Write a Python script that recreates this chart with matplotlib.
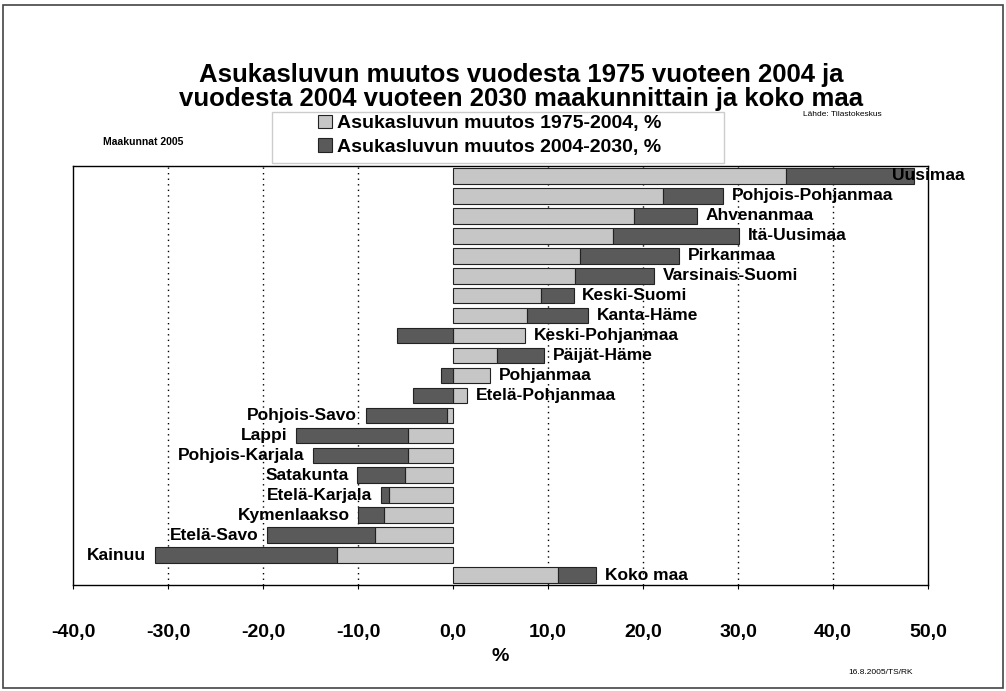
import numpy as np
import matplotlib.pyplot as plt
from matplotlib.patches import Rectangle

plt.rcParams['font.family'] = ['Liberation Sans', 'DejaVu Sans']

regions = ["Uusimaa", "Pohjois-Pohjanmaa", "Ahvenanmaa", "Itä-Uusimaa", "Pirkanmaa",
           "Varsinais-Suomi", "Keski-Suomi", "Kanta-Häme", "Keski-Pohjanmaa", "Päijät-Häme",
           "Pohjanmaa", "Etelä-Pohjanmaa", "Pohjois-Savo", "Lappi", "Pohjois-Karjala",
           "Satakunta", "Etelä-Karjala", "Kymenlaakso", "Etelä-Savo", "Kainuu", "Koko maa"]
change_1975_2004 = [35.0, 22.1, 19.1, 16.8, 13.4, 12.8, 9.3, 7.8, 7.6, 4.6,
                    3.9, 1.5, -0.6, -4.7, -4.7, -5.1, -6.7, -7.3, -8.2, -12.2, 11.0]
change_2004_2030 = [13.5, 6.3, 6.6, 13.3, 10.4, 8.4, 3.4, 6.4, -5.9, 5.0,
                    -1.3, -4.2, -8.6, -11.8, -10.0, -5.0, -0.9, -2.7, -11.4, -19.2, 4.1]

light = "#c6c6c6"
dark = "#5a5a5a"

a = np.array(change_1975_2004)
b = np.array(change_2004_2030)
# second series continues from the first when signs agree, else starts at 0
left_b = np.where(np.sign(a) == np.sign(b), a, 0.0)
y = np.arange(len(regions))

fig = plt.figure(figsize=(10.06, 6.91), dpi=100)
ax = fig.add_axes([0.0726, 0.1534, 0.8499, 0.6064])

ax.barh(y, a, height=0.78, color=light, edgecolor="#222222", linewidth=0.8,
        label="Asukasluvun muutos 1975-2004, %", zorder=3)
ax.barh(y, b, left=left_b, height=0.78, color=dark, edgecolor="#222222", linewidth=0.8,
        label="Asukasluvun muutos 2004-2030, %", zorder=3)

for i, name in enumerate(regions):
    hi = max(a[i], left_b[i] + b[i], 0)
    lo = min(a[i], left_b[i] + b[i], 0)
    if a[i] > 0:
        ax.text(min(hi + 0.9, 46.2), i, name, ha="left", va="center",
                fontsize=12.5, fontweight="bold", zorder=4)
    else:
        ax.text(lo - 0.9, i, name, ha="right", va="center",
                fontsize=12.5, fontweight="bold", zorder=4)

ax.set_xlim(-40, 50)
ax.set_ylim(len(regions) - 0.5, -0.5)
ax.set_yticks([])
ticks = np.arange(-40, 51, 10)
ax.set_xticks(ticks)
ax.set_xticklabels([f"{v:.1f}".replace(".", ",") for v in ticks],
                   fontsize=14, fontweight="bold")
ax.tick_params(axis="x", length=3, pad=25)
for gx in [-30, -20, -10, 10, 20, 30, 40]:
    ax.axvline(gx, color="black", linestyle=(0, (1, 3)), linewidth=1.0, zorder=1)
for s in ax.spines.values():
    s.set_linewidth(1.0)
ax.set_xlabel("%", fontsize=14, fontweight="bold", labelpad=5)

fig.text(0.518, 0.892, "Asukasluvun muutos vuodesta 1975 vuoteen 2004 ja",
         ha="center", va="center", fontsize=18.5, fontweight="bold")
fig.text(0.518, 0.857, "vuodesta 2004 vuoteen 2030 maakunnittain ja koko maa",
         ha="center", va="center", fontsize=18.5, fontweight="bold")
fig.text(0.102, 0.794, "Maakunnat 2005", fontsize=7.5, fontweight="bold", va="center")
fig.text(0.798, 0.834, "Lähde: Tilastokeskus", fontsize=6, va="center")
fig.text(0.843, 0.027, "16.8.2005/TS/RK", fontsize=6, va="center")

fig.legend(loc="upper left", bbox_to_anchor=(0.316, 0.834), ncol=1,
           prop={"size": 14, "weight": "bold"}, frameon=False,
           handlelength=0.7, handleheight=0.7,
           handletextpad=0.3, labelspacing=0.3, borderpad=0,
           borderaxespad=0)
fig.patches.append(Rectangle((0.2704, 0.7641), 0.4493, 0.0738, transform=fig.transFigure,
                             fill=False, edgecolor="#cccccc", linewidth=1.0))

fig.patches.append(Rectangle((0.003, 0.004), 0.994, 0.989, transform=fig.transFigure,
                             fill=False, edgecolor="#444444", linewidth=1.2))

fig.savefig("out.png", dpi=100)
